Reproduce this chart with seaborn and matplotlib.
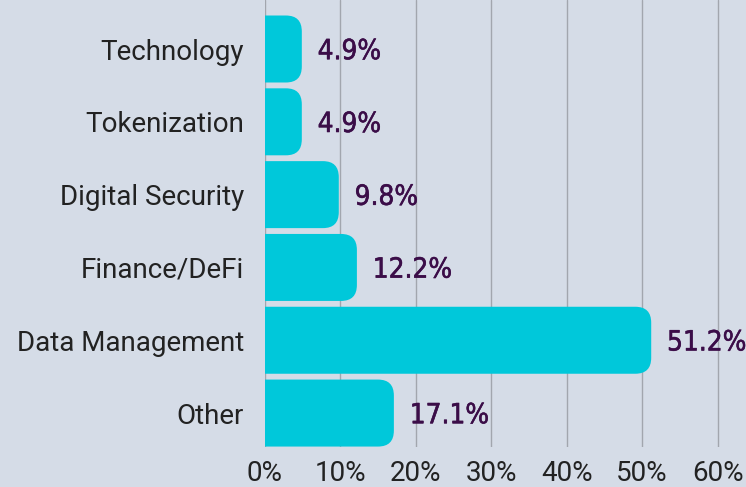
import seaborn as sns
import pandas as pd
import matplotlib.pyplot as plt
import matplotlib.patheffects as pe
from matplotlib.patches import FancyBboxPatch

categorias = ["Technology", "Tokenization", "Digital Security", "Finance/DeFi",
              "Data Management", "Other"]
valores = [4.9, 4.9, 9.8, 12.2, 51.2, 17.1]
ticks = [0, 10, 20, 30, 40, 50, 60]

df = pd.DataFrame({"Categoria": categorias, "Valor": valores})

sns.set_style("white")
plt.rcParams["font.family"] = ["Roboto", "DejaVu Sans"]

fundo = "#d5dce7"
fig = plt.figure(figsize=(7.46, 4.87), dpi=100, facecolor=fundo)
ax = fig.add_axes([0.355, 0.082, 0.611, 0.918])
ax.set_facecolor(fundo)

sns.barplot(x="Valor", y="Categoria", data=df, color="#00c8da", orient="h",
            width=0.92, ax=ax)

ax.set_xlim(0, 60.4)
ax.set_ylim(5.467, -0.673)

# barras com canto arredondado na direita
aspecto = 7.6 / 72.8
for p in list(ax.patches):
    x, y, w, h = p.get_x(), p.get_y(), p.get_width(), p.get_height()
    p.set_visible(False)
    caixa = FancyBboxPatch((x - 4, y), w + 4, h,
                           boxstyle="round,pad=0,rounding_size=2.1",
                           mutation_aspect=aspecto, facecolor="#00c8da",
                           edgecolor="none", zorder=3)
    ax.add_patch(caixa)

for i, v in enumerate(valores):
    ax.text(v + 2.1, i + 0.03, f"{v}%", va="center", ha="left", fontsize=20,
            color="#3b0d48", fontstretch="condensed",
            family=["DejaVu Sans"], zorder=4,
            path_effects=[pe.withStroke(linewidth=0.4, foreground="#3b0d48")])

ax.set_xticks(ticks)
ax.set_xticklabels([f"{t}%" for t in ticks], fontsize=20, color="#222222")
ax.set_yticks(range(len(categorias)))
ax.set_yticklabels(categorias, fontsize=20, color="#222222")
ax.tick_params(axis="y", length=0, pad=15)
ax.tick_params(axis="x", length=0, pad=9)
ax.grid(axis="x", color="#a2a6ae", linewidth=1, zorder=0)
ax.set_axisbelow(True)
for s in ax.spines.values():
    s.set_visible(False)
ax.set_xlabel("")
ax.set_ylabel("")

fig.savefig("out.png", dpi=100, facecolor=fundo)
